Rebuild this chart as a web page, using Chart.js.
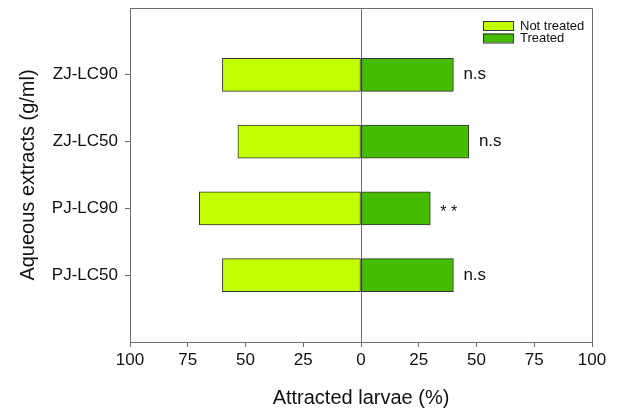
<!DOCTYPE html>
<html>
<head>
<meta charset="utf-8">
<script src="https://cdn.jsdelivr.net/npm/chart.js@4.4.1/dist/chart.umd.min.js"></script>
<style>
  html, body { margin: 0; padding: 0; background: #fff; }
  #wrap { width: 617px; height: 410px; }
</style>
</head>
<body>
<div id="wrap"><canvas id="chart" width="617" height="410"></canvas></div>
<script>
// --- Data ---
const categories = ['ZJ-LC90', 'ZJ-LC50', 'PJ-LC90', 'PJ-LC50'];
const notTreated = [60, 53.3, 70, 60];
const treated = [40, 46.7, 30, 40];
const significance = ['n.s', 'n.s', '* *', 'n.s'];
const seriesLabels = ['Not treated', 'Treated'];

// --- Styles ---
const AXIS = '#6e6e6e';
const TEXT = '#111';
const FONT = "'Liberation Sans', Arial, sans-serif";
const LIGHT = '#c2ff00';
const DARK = '#45bc00';

// Top/right frame, legend and significance marks
const extras = {
    id: 'extras',
    afterDatasetsDraw(chart) {
        const { ctx, chartArea: a, scales } = chart;
        ctx.save();
        ctx.strokeStyle = AXIS;
        ctx.lineWidth = 1;
        ctx.beginPath();
        ctx.moveTo(a.left, a.top + 0.5);
        ctx.lineTo(a.right + 0.5, a.top + 0.5);
        ctx.lineTo(a.right + 0.5, a.bottom);
        ctx.stroke();

        // significance labels next to treated bars
        ctx.fillStyle = TEXT;
        ctx.textAlign = 'left';
        ctx.textBaseline = 'middle';
        significance.forEach((s, i) => {
            const x = scales.x.getPixelForValue(treated[i]) + 10;
            const y = scales.y.getPixelForValue(i + 1);
            if (s.indexOf('*') >= 0) {
                ctx.font = '16px ' + FONT;
                ctx.fillText(s, x, y + 4);
            } else {
                ctx.font = '17px ' + FONT;
                ctx.fillText(s, x, y);
            }
        });

        // legend
        ctx.font = '13px ' + FONT;
        chart.data.datasets.forEach((ds, i) => {
            const bx = 483, by = 21 + i * 12.5;
            ctx.fillStyle = ds.backgroundColor;
            ctx.fillRect(bx, by, 30, 9);
            ctx.strokeStyle = '#333';
            ctx.strokeRect(bx + 0.5, by + 0.5, 30, 9);
            ctx.fillStyle = TEXT;
            ctx.fillText(ds.label, 520, by + 5);
        });
        ctx.restore();
    }
};

const chart = new Chart(document.getElementById('chart'), {
    type: 'bar',
    data: {
        datasets: [
            { label: seriesLabels[0], data: notTreated.map((v, i) => ({ x: -v, y: i + 1 })), backgroundColor: LIGHT },
            { label: seriesLabels[1], data: treated.map((v, i) => ({ x: v, y: i + 1 })), backgroundColor: DARK }
        ]
    },
    options: {
        responsive: false,
        animation: false,
        indexAxis: 'y',
        layout: { padding: { top: 8, right: 25, left: 0, bottom: 0 } },
        datasets: {
            bar: { grouped: false, barThickness: 33, borderWidth: 1, borderColor: '#333', borderSkipped: false }
        },
        plugins: { legend: { display: false }, tooltip: { enabled: false } },
        scales: {
            x: {
                type: 'linear',
                min: -100, max: 100,
                afterFit: s => { s.height = 68; },
                ticks: { stepSize: 25, padding: 3, color: TEXT, font: { family: FONT, size: 17 }, callback: v => Math.abs(v) },
                grid: {
                    color: c => (c.tick && c.tick.value === 0 ? AXIS : 'rgba(0,0,0,0)'),
                    tickColor: AXIS, tickLength: 5, lineWidth: 1
                },
                border: { color: AXIS },
                title: { display: true, text: 'Attracted larvae (%)', color: TEXT, font: { family: FONT, size: 20 }, padding: { top: 0, bottom: 0 } }
            },
            y: {
                type: 'linear',
                min: 0, max: 5,
                reverse: true,
                offset: false,
                afterFit: s => { s.width = 130; s.paddingTop = 0; s.paddingBottom = 0; },
                afterBuildTicks: s => { s.ticks = categories.map((c, i) => ({ value: i + 1 })); },
                ticks: { padding: 7, color: TEXT, font: { family: FONT, size: 17 }, callback: v => categories[v - 1] },
                grid: { offset: false, drawOnChartArea: false, tickColor: AXIS, tickLength: 5 },
                border: { color: AXIS },
                title: { display: true, text: 'Aqueous extracts (g/ml)', color: TEXT, font: { family: FONT, size: 20 }, padding: { top: 16, bottom: 0 } }
            }
        }
    },
    plugins: [extras]
});
</script>
</body>
</html>
